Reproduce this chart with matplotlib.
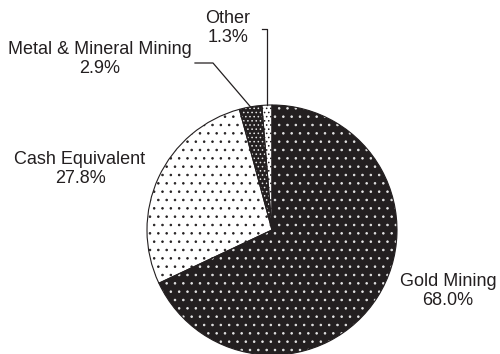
import numpy as np
import matplotlib

matplotlib.use("Agg")
import matplotlib.pyplot as plt

# data
labels = ["Gold Mining", "Cash Equivalent", "Metal & Mineral Mining", "Other"]
shares = [68.0, 27.8, 2.9, 1.3]

faces = ["#231f20", "white", "#231f20", "white"]
dots = ["#e6e6e6", "#231f20", "#e6e6e6", "#231f20"]
hatches = ["..", "..", "....", "...."]

plt.rcParams["font.family"] = ["Liberation Sans", "DejaVu Sans"]
plt.rcParams["hatch.linewidth"] = 0.6

W, H = 500, 354
fig = plt.figure(figsize=(W / 100, H / 100), dpi=100)
ax = fig.add_axes([0, 0, 1, 1])

cx, cy, R = 272, 124, 125
wedges, _ = ax.pie(shares, center=(cx, cy), radius=R, startangle=90,
                   counterclock=False, colors=faces,
                   wedgeprops=dict(linewidth=0))
for w, ec, h in zip(wedges, dots, hatches):
    w.set_edgecolor(ec)
    w.set_hatch(h)
    w.set_linewidth(0)

# outlines on top
ax.pie(shares, center=(cx, cy), radius=R, startangle=90, counterclock=False,
       colors=["none"] * 4,
       wedgeprops=dict(linewidth=0.8, edgecolor="#231f20", fill=False))

ax.set_xlim(0, W)
ax.set_ylim(0, H)
ax.set_aspect("equal")
ax.set_axis_off()

def rim(i):
    start = 90 - 360 * sum(shares[:i]) / 100
    mid = start - 360 * shares[i] / 200
    a = np.deg2rad(mid)
    return cx + R * np.cos(a), cy + R * np.sin(a)

fs = 13
def label(i, x, y):
    ax.text(x, y, f"{labels[i]}\n{shares[i]:.1f}%", ha="center", va="center",
            fontsize=fs, color="#231f20", linespacing=1.1)

label(0, 448, 63)
label(1, 80, 185)
label(2, 100, 295)
label(3, 228, 326)

# leaders
mx, my = rim(2)
ax.plot([195, 213, mx], [291, 291, my], color="#231f20", lw=0.9)
ox, oy = rim(3)
ax.plot([262, ox, ox], [325, 325, oy], color="#231f20", lw=0.9)

fig.savefig("out.png", dpi=100)
